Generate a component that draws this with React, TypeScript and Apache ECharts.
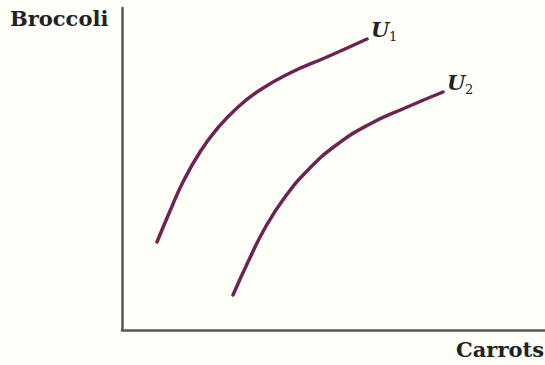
import React, { useEffect, useRef } from "react";
import * as echarts from "echarts";

// Curve points (x: carrots, y: broccoli)
const u1X = [35, 48, 61, 78, 95, 115, 138, 168, 205, 245];
const u1Y = [88, 119, 148, 178, 201, 222, 240, 257, 273, 291];
const u2X = [111, 126, 143, 163, 186, 213, 246, 283, 321];
const u2Y = [35, 68, 102, 133, 160, 184, 205, 222, 238];

const axisTitles = ["Carrots", "Broccoli"];
const curveNames = ["1", "2"];

export default function App() {
  const ref = useRef<HTMLDivElement>(null);
  useEffect(() => {
    const chart = echarts.init(ref.current!, null, { renderer: "svg" });
    const lineColor = "#6c2450";
    const serif = "DejaVu Serif";
    chart.setOption({
      animation: false,
      backgroundColor: "#fffffa",
      grid: { left: 122, right: 0, top: 8, bottom: 35 },
      xAxis: {
        type: "value",
        min: 0,
        max: 423,
        axisLine: { show: true, lineStyle: { color: "#555", width: 2.5 } },
        axisTick: { show: false },
        axisLabel: { show: false },
        splitLine: { show: false },
      },
      yAxis: {
        type: "value",
        min: 0,
        max: 322,
        axisLine: { show: true, lineStyle: { color: "#555", width: 2.5 } },
        axisTick: { show: false },
        axisLabel: { show: false },
        splitLine: { show: false },
      },
      series: [
        {
          type: "line",
          data: u1X.map((x, i) => [x, u1Y[i]]),
          smooth: 0.5,
          showSymbol: false,
          lineStyle: { color: lineColor, width: 3.5, cap: "round" },
        },
        {
          type: "line",
          data: u2X.map((x, i) => [x, u2Y[i]]),
          smooth: 0.5,
          showSymbol: false,
          lineStyle: { color: lineColor, width: 3.5, cap: "round" },
        },
      ],
      graphic: [
        {
          type: "text",
          left: 10,
          top: 8,
          style: { text: axisTitles[1], font: `bold 21px "${serif}"`, fill: "#222" },
        },
        {
          type: "text",
          right: 1,
          top: 339,
          style: { text: axisTitles[0], font: `bold 21px "${serif}"`, fill: "#222" },
        },
        {
          type: "text",
          x: 371,
          y: 19,
          style: { text: "U", font: `italic bold 21px "${serif}"`, fill: "#222" },
        },
        {
          type: "text",
          x: 389,
          y: 30,
          style: { text: curveNames[0], font: `13px "${serif}"`, fill: "#222" },
        },
        {
          type: "text",
          x: 447,
          y: 72,
          style: { text: "U", font: `italic bold 21px "${serif}"`, fill: "#222" },
        },
        {
          type: "text",
          x: 465,
          y: 83,
          style: { text: curveNames[1], font: `13px "${serif}"`, fill: "#222" },
        },
      ],
    });
    return () => chart.dispose();
  }, []);
  return (
    <div
      ref={ref}
      style={{ position: "absolute", left: 0, top: 0, width: 545, height: 365 }}
    />
  );
}
